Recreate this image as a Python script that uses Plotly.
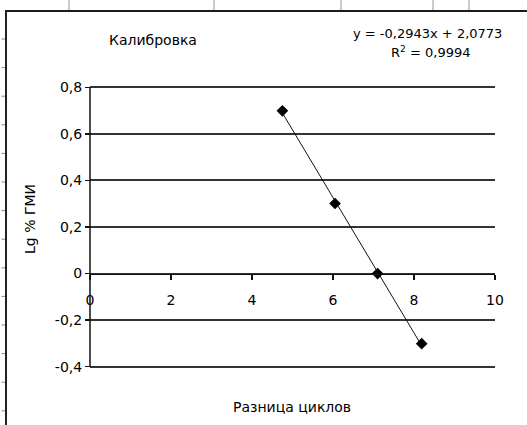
import numpy as np
import plotly.graph_objects as go

# Data
x_cycles = [4.75, 6.05, 7.10, 8.19]
lg_gmi = [0.699, 0.301, 0.0, -0.301]

y_tickvals = [-0.4, -0.2, 0, 0.2, 0.4, 0.6, 0.8]
y_ticktext = ["-0,4", "-0,2", "0", "0,2", "0,4", "0,6", "0,8"]
x_tickvals = [0, 2, 4, 6, 8, 10]
x_ticktext = ["0", "2", "4", "6", "8", "10"]

title_text = "Калибровка"
x_title = "Разница циклов"
y_title = "Lg % ГМИ"
eq_text = "y = -0,2943x + 2,0773"
r2_text = "R<sup>2</sup> = 0,9994"

# Linear trendline from the data
slope, intercept = np.polyfit(x_cycles, lg_gmi, 1)
tx = np.array([min(x_cycles), max(x_cycles)])
ty = slope * tx + intercept

W, H = 527, 425
Y_LO, Y_HI = -0.4, 0.8
EPS = 0.01  # pad so that the edge gridlines are drawn
PXU = 233.0  # pixels per y unit in the reference
L, R = 90, 32
T = round(87 - EPS * PXU)
B = round(58 - EPS * PXU)
PW, PH = W - L - R, H - T - B


def px(x):
    return (x - L) / PW


def py(y):
    return (H - B - y) / PH


FONT = "DejaVu Sans"

fig = go.Figure()
fig.add_trace(go.Scatter(x=tx, y=ty, mode="lines",
                         line=dict(color="#111", width=1), hoverinfo="skip",
                         showlegend=False))
fig.add_trace(go.Scatter(x=x_cycles, y=lg_gmi, mode="markers",
                         marker=dict(symbol="diamond", size=9, color="#000"),
                         showlegend=False))

shapes = []
# spreadsheet column lines above the frame
for cx in [69, 214, 341, 433, 469]:
    shapes.append(dict(type="line", xref="paper", yref="paper",
                       x0=px(cx), x1=px(cx), y0=py(0), y1=py(10),
                       line=dict(color="#999", width=1)))
# spreadsheet row marks on the left
for k in range(14):
    ry = 39 + 28.6 * k
    shapes.append(dict(type="line", xref="paper", yref="paper",
                       x0=px(1.5), x1=px(5), y0=py(ry), y1=py(ry),
                       line=dict(color="#888", width=1)))
# outer chart frame: top edge as a thin filled band, left edge as a line
shapes.append(dict(type="rect", xref="paper", yref="paper",
                   x0=px(5), x1=px(527), y0=py(12), y1=py(10),
                   line=dict(width=0), fillcolor="#1a1a1a"))
shapes.append(dict(type="line", xref="paper", yref="paper",
                   x0=px(6), x1=px(6), y0=py(10), y1=py(440),
                   line=dict(color="#222", width=2)))
# y axis line
shapes.append(dict(type="line", xref="paper", yref="paper",
                   x0=0, x1=0, y0=py(367), y1=py(87),
                   line=dict(color="#111", width=1.5)))

annotations = [
    dict(text=title_text, xref="paper", yref="paper", x=px(107), y=py(40),
         xanchor="left", yanchor="middle", showarrow=False,
         font=dict(family=FONT, size=14, color="#000")),
    dict(text=eq_text, xref="paper", yref="paper", x=px(504), y=py(33),
         xanchor="right", yanchor="middle", showarrow=False,
         font=dict(family=FONT, size=13, color="#000")),
    dict(text=r2_text, xref="paper", yref="paper", x=px(431), y=py(52),
         xanchor="center", yanchor="middle", showarrow=False,
         font=dict(family=FONT, size=13, color="#000")),
    dict(text=x_title, xref="paper", yref="paper", x=px(292), y=py(407),
         xanchor="center", yanchor="middle", showarrow=False,
         font=dict(family=FONT, size=14, color="#000")),
    dict(text=y_title, xref="paper", yref="paper", x=px(30), y=py(219),
         xanchor="center", yanchor="middle", showarrow=False, textangle=-90,
         font=dict(family=FONT, size=14, color="#000")),
]

fig.update_layout(
    width=W, height=H,
    margin=dict(l=L, r=R, t=T, b=B, pad=0),
    paper_bgcolor="white", plot_bgcolor="white",
    font=dict(family=FONT, size=14, color="#000"),
    shapes=shapes, annotations=annotations,
    xaxis=dict(range=[0, 10], tickvals=x_tickvals, ticktext=x_ticktext,
               anchor="free",
               position=(0 - Y_LO + EPS) / (Y_HI - Y_LO + 2 * EPS),
               showgrid=False, zeroline=False,
               showline=True, linecolor="#111", linewidth=1.5,
               ticks="outside", ticklen=5, tickwidth=1.5, tickcolor="#111",
               ticklabelstandoff=8, fixedrange=True),
    yaxis=dict(range=[Y_LO - EPS, Y_HI + EPS], tickvals=y_tickvals,
               ticktext=y_ticktext, anchor="free", position=0,
               showgrid=True, gridcolor="#333", gridwidth=2,
               zeroline=False, showline=False,
               ticks="outside", ticklen=5, tickwidth=1.5, tickcolor="#111",
               fixedrange=True),
)

fig.write_html("out.html", config={"displayModeBar": False, "staticPlot": True},
               post_script="document.body.style.margin='0';"
                           "document.body.style.padding='0';")
